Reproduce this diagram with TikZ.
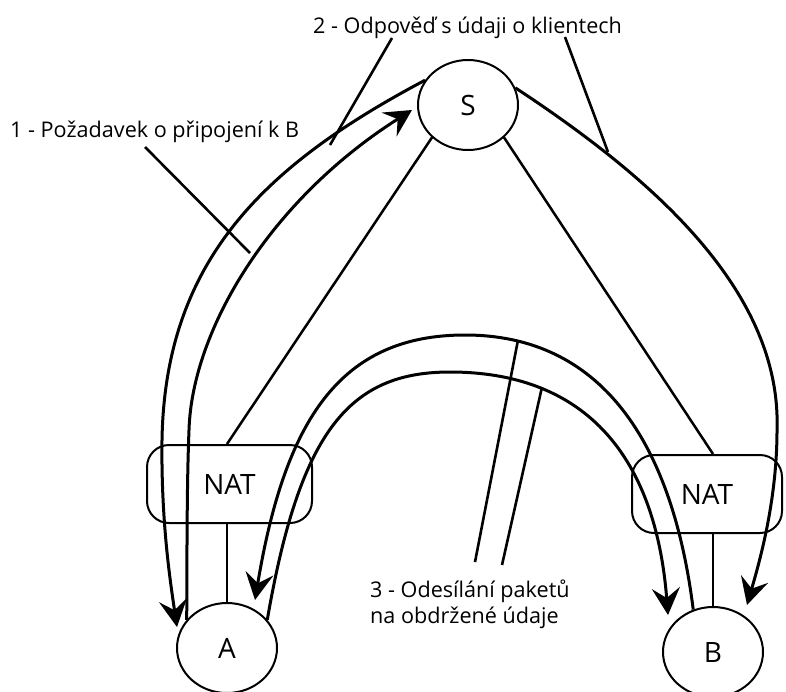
\documentclass[tikz,border=0pt]{standalone}
\usepackage{fontspec}
\setmainfont{Open Sans}
\usetikzlibrary{arrows.meta,shapes.geometric}
\begin{document}
\begin{tikzpicture}[x=1pt,y=-1pt,
  circ/.style={draw,line width=2pt,ellipse,minimum width=100pt,minimum height=90pt,inner sep=0pt,font=\fontsize{28}{30}\selectfont},
  natbox/.style={draw,line width=2pt,rounded corners=22pt,minimum height=78pt,inner sep=0pt,font=\fontsize{28}{30}\selectfont},
  flow/.style={line width=3pt,-{Stealth[length=27pt,width=28pt,inset=10pt]}},
  link/.style={line width=2.5pt},
  pointer/.style={line width=2.6pt},
  lbl/.style={font=\fontsize{21.6}{26}\selectfont,inner sep=0pt,anchor=base west}]
\useasboundingbox (0,0) rectangle (786,691);
\fill[white] (0,0) rectangle (786,691);

% nodes
\node[circ] (S) at (468,105) {S};
\node[circ] (A) at (227,648) {A};
\node[circ] (B) at (713,652) {B};
\node[natbox,minimum width=165pt] (natL) at (229.5,484) {NAT};
\node[natbox,minimum width=150pt] (natR) at (707,494) {NAT};

% labels
\node[lbl] (l1) at (10,137) {1 - Požadavek o připojení k B};
\node[lbl] (l2) at (313,33) {2 - Odpověď s údaji o klientech};
\node[lbl] (l3a) at (370,597) {3 - Odesílání paketů};
\node[lbl] (l3b) at (370,623) {na obdržené údaje};

% straight links
\draw[link] (natL.north -| A.north) -- (S.south west);
\draw[link] (natR.north -| B.north) -- (S.south east);
\draw[link] (natL.south -| A.north) -- (A.north);
\draw[link] (natR.south -| B.north) -- (B.north);

% free ends
\coordinate (reqS) at (412,110);
\coordinate (respA) at (177,627);
\coordinate (respB) at (747,605);
\coordinate (pktA) at (255,600);
\coordinate (pktB) at (668,615);

% 1: request A -> S
\draw[flow] (A.145) .. controls (187,540) and (187,480) .. (189,430)
  .. controls (192,330) and (270,200) .. (reqS);
% 2: response S -> A
\draw[flow] (S.150) .. controls (265,165) and (165,260) .. (162,440)
  .. controls (161,520) and (170,580) .. (respA);
% 2: response S -> B
\draw[flow] (S.20) .. controls (640,170) and (782,285) .. (777,430)
  .. controls (777,500) and (760,560) .. (respB);
% 3: packets B -> A (outer arch)
\draw[flow] (B.115) .. controls (672,440) and (600,335) .. (465,335)
  .. controls (340,335) and (285,420) .. (pktA);
% 3: packets A -> B (inner arch)
\draw[flow] (A.35) .. controls (300,430) and (350,372) .. (450,372)
  .. controls (580,372) and (655,450) .. (pktB);

% pointers
\coordinate (p1s) at (145,147);
\coordinate (p1e) at (250,253);
\coordinate (p2s) at (392,38);
\coordinate (p2e) at (330,145);
\coordinate (p3s) at (565,37);
\coordinate (p3e) at (608,152);
\coordinate (p4s) at (475,562);
\coordinate (p4e) at (518,340);
\coordinate (p5s) at (502,565);
\coordinate (p5e) at (542,387);
\draw[pointer] (p1s) -- (p1e);
\draw[pointer] (p2s) -- (p2e);
\draw[pointer] (p3s) -- (p3e);
\draw[pointer] (p4s) -- (p4e);
\draw[pointer] (p5s) -- (p5e);
\end{tikzpicture}
\end{document}
